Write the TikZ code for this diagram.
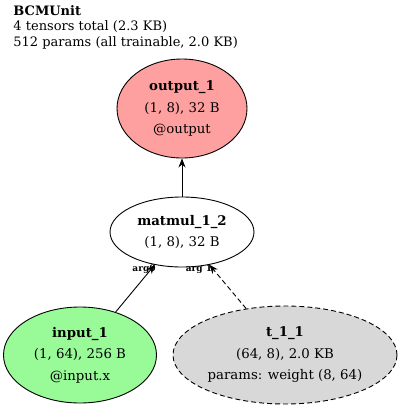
\documentclass[tikz,border=0pt]{standalone}
\usepackage{fontspec}
\setmainfont{DejaVu Serif}
\usetikzlibrary{shapes.geometric, arrows.meta}

\definecolor{outred}{RGB}{255,160,160}
\definecolor{inpgreen}{RGB}{152,251,152}
\definecolor{parmgray}{RGB}{216,216,216}

\tikzset{
    tensor/.style={draw, ellipse, inner sep=0pt, align=center,
        font=\fontsize{13.3}{21.5}\selectfont},
    argl/.style={font=\fontsize{9}{9}\selectfont\bfseries, inner sep=0pt},
    dashline/.style={dash pattern=on 5pt off 3pt},
}

\begin{document}
\begin{tikzpicture}[x=1pt, y=-1pt, >={Stealth[length=9pt, width=7pt]}, line width=0.9pt]
    \useasboundingbox (0,0) rectangle (400,410);

    % Title
    \node[anchor=north west, align=left, inner sep=0pt,
        font=\fontsize{13}{15.5}\selectfont] (title) at (13,5)
        {\textbf{BCMUnit}\\4 tensors total (2.3 KB)\\512 params (all trainable, 2.0 KB)};

    % Nodes
    \node[tensor, fill=outred, minimum width=130, minimum height=99] (out1) at (182,108.5)
        {\textbf{output\_1}\\(1, 8), 32 B\\@output};
    \node[tensor, fill=white, minimum width=144, minimum height=70] (mm12) at (182,232)
        {\textbf{matmul\_1\_2}\\(1, 8), 32 B};
    \node[tensor, fill=inpgreen, minimum width=153, minimum height=96] (in1) at (80,355)
        {\textbf{input\_1}\\(1, 64), 256 B\\@input.x};
    \node[tensor, fill=parmgray, dashline, minimum width=224, minimum height=98] (t11) at (285,355)
        {\textbf{t\_1\_1}\\(64, 8), 2.0 KB\\params: weight (8, 64)};

    % Edge labels
    \node[argl] (arg0) at (144,269) {arg0};
    \node[argl] (arg1) at (199,269) {arg 1};

    % Connections
    \draw[->] (mm12) -- (out1);
    \draw[->] (in1) -- (mm12);
    \draw[->, dashline] (t11) -- (mm12);
\end{tikzpicture}
\end{document}
